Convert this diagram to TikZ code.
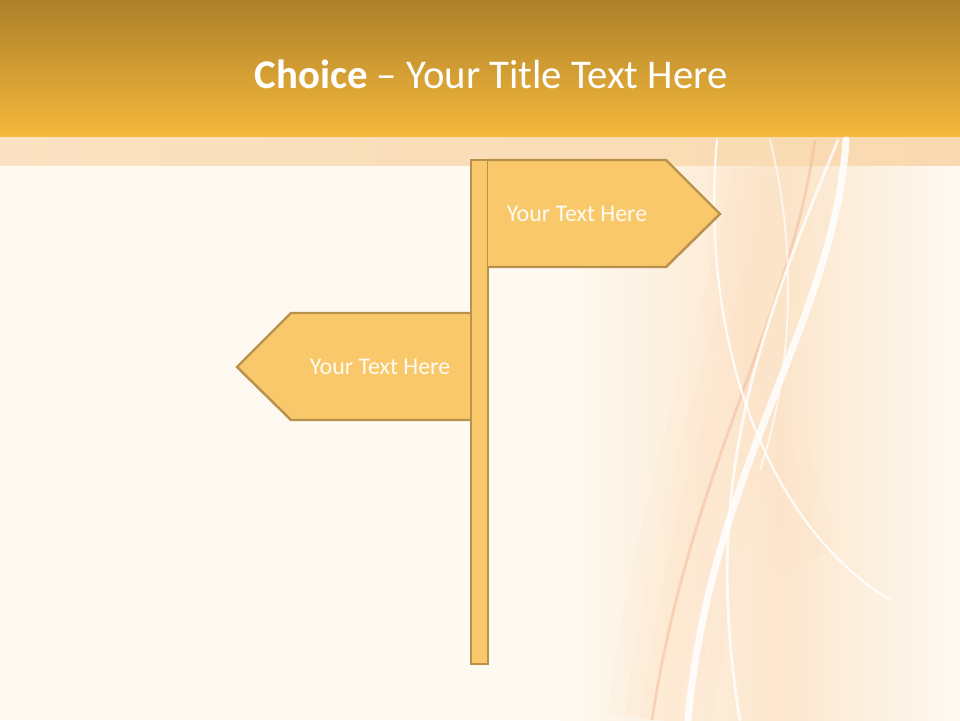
\documentclass[tikz,border=0pt]{standalone}
\usepackage{fontspec}
\setmainfont{Carlito}
\definecolor{paper}{HTML}{FEFAF2}
\definecolor{headtop}{HTML}{AC812A}
\definecolor{headbot}{HTML}{F6B83B}
\definecolor{bandleft}{HTML}{FBE2C2}
\definecolor{band}{HTML}{F9D9B0}
\definecolor{glow}{HTML}{FCE6CC}
\definecolor{salmon}{HTML}{F4B89A}
\definecolor{signfill}{HTML}{F9C86B}
\definecolor{signline}{HTML}{B8914C}
\tikzset{
  sign/.style={draw=signline, fill=signfill, line width=1.4pt, line join=miter},
  signtext/.style={text=white!92!signfill, font=\fontsize{13.6}{16}\selectfont, anchor=base},
  title/.style={text=white, font=\fontsize{23.2}{28}\selectfont, anchor=base},
  swirl/.style={white, line cap=round}
}

\begin{document}
\begin{tikzpicture}[x=0.02cm, y=-0.02cm]
    \useasboundingbox (0,0) rectangle (960,720);
    % Paper and glow on the right
    \fill[paper] (0,0) rectangle (960,720);
    \shade[left color=paper, right color=glow] (560,137) rectangle (780,720);
    \shade[left color=glow, right color=paper] (780,137) rectangle (960,720);
    \foreach \w/\o in {60/0.15, 40/0.18, 22/0.22}{
        \draw[glow!80!orange!60!white, line width=\w pt, opacity=\o]
            (790,150) .. controls (760,330) and (690,480) .. (660,720);
    }
    \foreach \w/\o in {40/0.12, 22/0.15}{
        \draw[glow!80!orange!60!white, line width=\w pt, opacity=\o]
            (745,170) .. controls (740,330) and (770,470) .. (810,560);
    }
    % Header
    \shade[top color=headtop, bottom color=headbot] (0,0) rectangle (960,137);
    \shade[left color=bandleft, right color=band] (0,137) rectangle (960,165);
    \node[title] (title) at (491,88) {\textbf{Choice} – Your Title Text Here};
    % Swirls
    \draw[salmon, line width=1.6pt, opacity=0.5]
        (815,140) .. controls (790,320) and (690,470) .. (652,720);
    \draw[swirl, line width=4pt, opacity=0.85]
        (846,140) .. controls (835,320) and (710,470) .. (688,720);
    \draw[swirl, line width=1.2pt, opacity=0.9]
        (717,140) .. controls (700,330) and (760,520) .. (890,600);
    \draw[swirl, line width=1.6pt, opacity=0.8]
        (838,140) .. controls (760,330) and (700,480) .. (740,720);
    \draw[swirl, line width=1pt, opacity=0.7]
        (770,140) .. controls (800,260) and (790,380) .. (760,470);
    % Post
    \draw[sign] (471,160) rectangle (488,664);
    % Right sign
    \draw[sign] (488,160) -- (666,160) -- (720,214) -- (666,267) -- (488,267);
    \node[signtext] (right) at (577,221) {Your Text Here};
    % Left sign
    \draw[sign] (470,313) -- (291,313) -- (237,367) -- (291,420) -- (470,420);
    \node[signtext] (left) at (380,374) {Your Text Here};
\end{tikzpicture}
\end{document}
